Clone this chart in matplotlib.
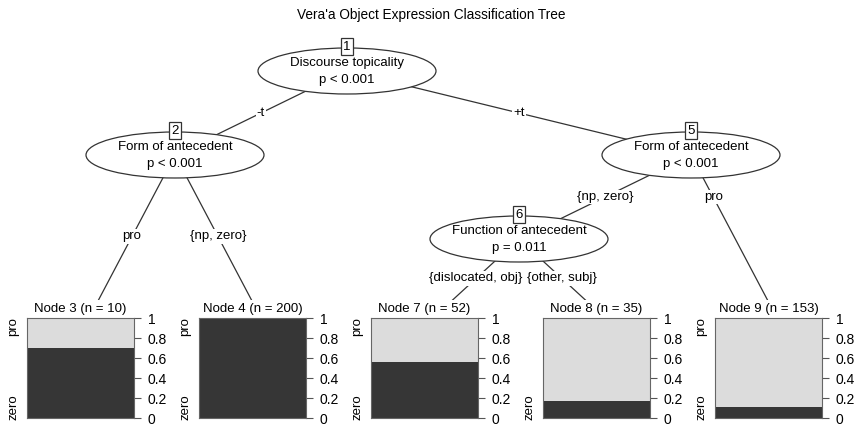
import matplotlib
matplotlib.use('Agg')
import matplotlib.pyplot as plt
from matplotlib.patches import Ellipse, Rectangle

plt.rcParams['font.family'] = ['Liberation Sans', 'DejaVu Sans']

title = "Vera'a Object Expression Classification Tree"

# inner nodes
inner_ids = [1, 2, 5, 6]
inner_vars = ['Discourse topicality', 'Form of antecedent',
              'Form of antecedent', 'Function of antecedent']
inner_p = ['p < 0.001', 'p < 0.001', 'p < 0.001', 'p = 0.011']
children = {1: [2, 5], 2: [3, 4], 5: [6, 9], 6: [7, 8]}
edge_labels = {(1, 2): '-t', (1, 5): '+t',
               (2, 3): 'pro', (2, 4): '{np, zero}',
               (5, 6): '{np, zero}', (5, 9): 'pro',
               (6, 7): '{dislocated, obj}', (6, 8): '{other, subj}'}

# terminal nodes
term_ids = [3, 4, 7, 8, 9]
term_n = [10, 200, 52, 35, 153]
zero_share = [0.70, 1.00, 0.56, 0.17, 0.11]
classes = ['pro', 'zero']
show_pro = [True, True, True, False, True]

# layout (pixels)
W, H = 862, 426
unit, x_off = 172, 3
level0, level_step = 71, 84
term_top, term_h, panel_w, panel_shift = 318, 100, 107, -8.5
ell_w, ell_h = 178, 46
fs = 9.5
dark, light = '#363636', '#dcdcdc'
line_col = '#333333'


def n_terms(n):
    if n not in children:
        return 1
    return sum(n_terms(c) for c in children[n])


pos = {}


def place(n, left, depth):
    if n not in children:
        pos[n] = (x_off + unit * (left + 0.5), term_top)
        return
    l, r = children[n]
    pos[n] = (x_off + unit * (left + n_terms(l)), level0 + level_step * depth)
    place(l, left, depth + 1)
    place(r, left + n_terms(l), depth + 1)


place(1, 0, 0)

fig = plt.figure(figsize=(W / 100, H / 100), dpi=100)
ax = fig.add_axes([0, 0, 1, 1])
ax.set_xlim(0, W)
ax.set_ylim(H, 0)
ax.axis('off')

ax.text(W / 2, 15, title, ha='center', va='center', fontsize=9.8)

# edges
for p, kids in children.items():
    px, py = pos[p]
    ly = (py + min(pos[c][1] for c in kids)) / 2
    for c in kids:
        cx, cy = pos[c]
        ax.plot([px, cx], [py, cy], color=line_col, lw=0.9, zorder=1)
        lx = px + (cx - px) * (ly - py) / (cy - py)
        ax.text(lx, ly, edge_labels[(p, c)], ha='center', va='center',
                fontsize=fs, zorder=3,
                bbox=dict(boxstyle='square,pad=0.1', fc='white', ec='none'))

# inner nodes
for nid, var, pv in zip(inner_ids, inner_vars, inner_p):
    x, y = pos[nid]
    ax.add_patch(Ellipse((x, y), ell_w, ell_h, fc='white', ec=line_col,
                         lw=0.9, zorder=4))
    ax.text(x, y - 8, var, ha='center', va='center', fontsize=fs, zorder=5)
    ax.text(x, y + 9, pv, ha='center', va='center', fontsize=fs, zorder=5)
    ax.text(x, y - 24.5, str(nid), ha='center', va='center', fontsize=fs,
            zorder=6, bbox=dict(boxstyle='square,pad=0.2', fc='white',
                                ec=line_col, lw=0.9))

# terminal nodes
for i, (nid, n, z) in enumerate(zip(term_ids, term_n, zero_share)):
    tx = pos[nid][0]
    ax.add_patch(Rectangle((tx - 84, 300), 168, H - 300, fc='white',
                           ec='none', zorder=2))
    cx = tx + panel_shift
    ax.text(cx, 309, 'Node %d (n = %d)' % (nid, n), ha='center',
            va='center', fontsize=fs, zorder=3)
    left = cx - panel_w / 2
    tax = fig.add_axes([left / W, 1 - (term_top + term_h) / H,
                        panel_w / W, term_h / H])
    tax.bar(0, z, width=1, color=dark, lw=0)
    tax.bar(0, 1 - z, bottom=z, width=1, color=light, lw=0)
    tax.set_xlim(-0.5, 0.5)
    tax.set_ylim(0, 1)
    tax.set_xticks([])
    tax.yaxis.tick_right()
    tax.set_yticks([0, 0.2, 0.4, 0.6, 0.8, 1])
    tax.set_yticklabels(['0', '0.2', '0.4', '0.6', '0.8', '1'], fontsize=10)
    tax.tick_params(axis='y', length=5, width=0.8, color='#555555', pad=5)
    for s in tax.spines.values():
        s.set_color('#666666')
        s.set_linewidth(0.8)
    if show_pro[i]:
        tax.text(-0.13, 0.91, classes[0], transform=tax.transAxes,
                 rotation=90, ha='center', va='center', fontsize=fs)
    tax.text(-0.13, 0.11, classes[1], transform=tax.transAxes,
             rotation=90, ha='center', va='center', fontsize=fs)

fig.savefig('out.png', dpi=100)
